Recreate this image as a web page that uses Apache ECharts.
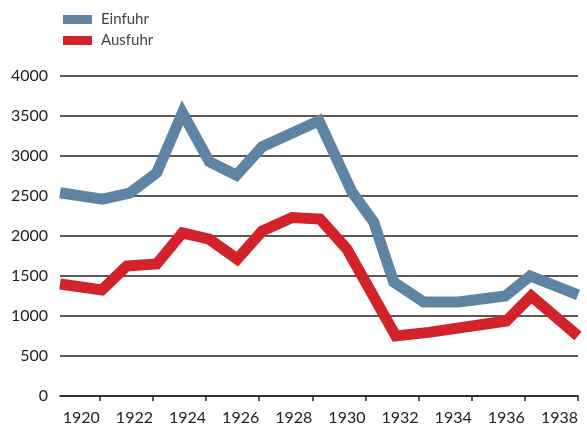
<!DOCTYPE html>
<html>
<head>
<meta charset="utf-8">
<script src="https://cdn.jsdelivr.net/npm/echarts@6/dist/echarts.min.js"></script>
<style>
  html, body { margin: 0; padding: 0; background: #fff; }
  #chart { width: 587px; height: 433px; }
</style>
</head>
<body>
<div id="chart"></div>
<script>
// values: [year position, value]
const einfuhr = [
  [1918.5, 2540], [1920.1, 2460], [1921.12, 2535], [1922.14, 2790],
  [1923.11, 3540], [1924.12, 2930], [1925.14, 2760], [1926.11, 3115],
  [1928.25, 3440], [1929.49, 2550], [1930.31, 2175], [1931.06, 1425],
  [1932.19, 1175], [1933.5, 1175], [1935.26, 1250], [1936.2, 1500],
  [1938, 1265]
];
const ausfuhr = [
  [1918.5, 1400], [1920.08, 1325], [1921.01, 1625], [1922.14, 1650],
  [1923.11, 2040], [1924.12, 1960], [1925.17, 1712], [1926.11, 2062],
  [1927.24, 2231], [1928.29, 2212], [1929.3, 1837], [1931.14, 750],
  [1932.38, 795], [1935.3, 937], [1936.24, 1250], [1938, 750]
];
const yearTicks = [1920, 1922, 1924, 1926, 1928, 1930, 1932, 1934, 1936, 1938];

const BLUE = '#5f84a3';
const RED = '#d2232b';
const FONT = 'Lato';

const chart = echarts.init(document.getElementById('chart'), null, { renderer: 'canvas' });

chart.setOption({
  animation: false,
  textStyle: { fontFamily: FONT },
  legend: {
    orient: 'vertical',
    left: 58,
    top: 7,
    itemWidth: 29,
    itemHeight: 9,
    itemGap: 6,
    icon: 'rect',
    textStyle: { fontFamily: FONT, fontSize: 15, color: '#444', padding: [0, 0, 0, 4] },
    data: ['Einfuhr', 'Ausfuhr']
  },
  grid: { left: 60, right: 9, top: 76, bottom: 37 },
  xAxis: {
    type: 'value',
    min: 1918.5,
    max: 1938,
    splitLine: { show: false },
    axisLine: { show: true, lineStyle: { color: '#222', width: 1.5 } },
    axisTick: { show: true, length: 5, customValues: yearTicks, lineStyle: { color: '#222', width: 1.5 } },
    axisLabel: {
      customValues: yearTicks,
      align: 'right',
      margin: 14,
      fontFamily: FONT,
      fontSize: 16,
      color: '#222',
      formatter: v => String(v)
    }
  },
  yAxis: {
    type: 'value',
    min: 0,
    max: 4000,
    interval: 500,
    axisLine: { show: false },
    axisTick: { show: false },
    splitLine: { show: true, lineStyle: { color: '#222', width: 1.5 } },
    axisLabel: { fontFamily: FONT, fontSize: 16, color: '#222', margin: 12, formatter: v => String(v) }
  },
  series: [
    {
      name: 'Einfuhr',
      type: 'line',
      data: einfuhr,
      showSymbol: false,
      itemStyle: { color: BLUE },
      lineStyle: { color: BLUE, width: 11, join: 'miter', cap: 'butt' }
    },
    {
      name: 'Ausfuhr',
      type: 'line',
      data: ausfuhr,
      showSymbol: false,
      itemStyle: { color: RED },
      lineStyle: { color: RED, width: 11, join: 'miter', cap: 'butt' }
    }
  ]
});
</script>
</body>
</html>
